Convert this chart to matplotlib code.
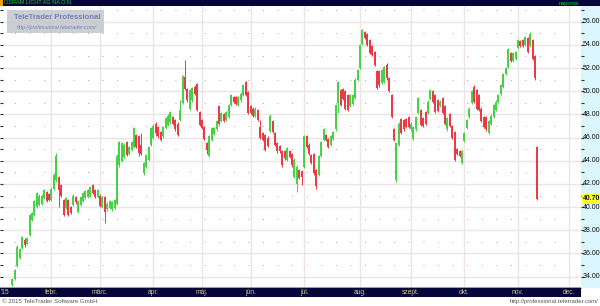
import numpy as np
import matplotlib
matplotlib.use("Agg")
import matplotlib.pyplot as plt
from matplotlib.patches import Rectangle
import matplotlib.transforms as mtransforms

plt.rcParams['font.family'] = ['Liberation Sans', 'DejaVu Sans']

# daily bars (open, high, low, close), one list per month
jan = [(33.3, 33.9, 33.2, 33.8), (33.8, 34.7, 33.7, 34.6), (34.9, 36.7, 34.8, 36.6),
       (35.6, 36.5, 35.5, 36.4), (36.5, 37.5, 36.4, 37.4), (37.2, 37.3, 36.6, 36.7),
       (36.8, 37.4, 36.7, 37.3), (37.6, 39.4, 37.5, 39.3), (38.9, 39.6, 38.8, 39.5),
       (39.3, 40.6, 39.2, 40.5), (40.0, 41.3, 39.9, 41.2), (40.2, 41.1, 40.1, 41.0),
       (40.3, 41.1, 40.2, 41.0), (40.8, 41.6, 40.7, 41.5), (41.3, 41.4, 40.4, 40.5),
       (41.1, 41.2, 40.5, 40.6)]
feb = [(40.6, 41.7, 40.5, 41.6), (41.6, 42.9, 41.5, 42.8), (42.3, 44.7, 42.2, 44.4),
       (42.6, 42.7, 40.0, 41.5), (41.9, 42.0, 40.9, 41.0), (40.6, 40.7, 39.2, 39.3),
       (39.9, 40.9, 39.8, 40.8), (40.6, 40.7, 39.2, 39.3), (40.0, 40.1, 39.4, 39.5),
       (40.2, 41.1, 40.1, 41.0), (40.9, 41.0, 40.3, 40.4), (39.6, 40.6, 39.5, 40.5),
       (40.2, 41.0, 40.1, 40.9), (40.5, 41.3, 40.4, 41.2), (40.8, 41.5, 40.7, 41.4),
       (40.9, 41.6, 40.8, 41.5), (41.0, 41.8, 40.9, 41.7), (41.9, 42.0, 41.1, 41.2),
       (41.5, 41.6, 40.8, 40.9), (40.9, 41.6, 40.8, 41.5)]
mar = [(41.0, 41.1, 40.0, 40.1), (40.0, 41.0, 39.9, 40.9), (40.9, 41.0, 38.6, 39.6),
       (39.8, 40.4, 39.7, 40.3), (39.9, 40.6, 39.8, 40.5), (39.8, 40.5, 39.7, 40.4),
       (39.9, 40.7, 39.8, 40.6), (40.3, 44.6, 40.2, 44.4), (43.6, 45.7, 43.5, 45.6),
       (44.0, 45.6, 43.9, 45.5), (44.3, 45.5, 44.2, 45.4), (45.6, 45.7, 44.4, 44.5),
       (44.6, 45.3, 44.5, 45.2), (44.9, 45.7, 44.8, 45.6), (45.2, 46.9, 45.1, 46.8),
       (46.2, 46.3, 45.1, 45.2), (46.1, 46.2, 44.4, 44.7), (45.4, 46.4, 44.5, 44.6),
       (42.9, 43.9, 42.8, 43.8), (43.5, 44.6, 43.4, 44.5), (44.1, 45.3, 44.0, 45.2),
       (45.4, 46.9, 45.3, 46.8)]
apr = [(46.0, 47.2, 45.9, 47.0), (47.2, 47.3, 46.1, 46.4), (46.9, 47.0, 46.0, 46.1),
       (46.5, 46.6, 45.7, 45.8), (46.1, 47.0, 46.0, 46.9), (46.8, 47.8, 46.7, 47.7),
       (47.1, 48.0, 47.0, 47.9), (47.3, 48.3, 47.2, 48.2), (47.8, 47.9, 47.1, 47.2),
       (47.5, 47.6, 46.6, 46.7), (47.2, 47.3, 46.1, 46.2), (47.5, 49.2, 47.4, 48.4),
       (49.0, 51.4, 48.9, 51.3), (51.2, 52.7, 50.1, 50.2), (50.2, 50.3, 49.1, 49.2),
       (48.5, 50.2, 48.4, 50.1), (49.2, 50.4, 49.1, 50.3), (50.4, 50.5, 49.7, 49.8),
       (50.6, 50.7, 48.3, 48.4), (48.2, 48.3, 47.0, 47.1)]
may = [(47.5, 47.6, 46.7, 46.8), (46.9, 47.0, 45.8, 45.9), (45.5, 45.6, 44.6, 44.9),
       (44.4, 46.2, 44.3, 46.1), (45.8, 46.9, 45.7, 46.8), (46.3, 46.9, 46.2, 46.8),
       (46.7, 47.5, 46.6, 47.4), (48.7, 48.8, 47.1, 47.2), (47.4, 48.2, 47.3, 48.1),
       (48.0, 48.1, 47.3, 47.4), (47.5, 48.3, 47.4, 48.2), (47.8, 48.9, 47.7, 48.8),
       (48.8, 49.8, 48.7, 49.7), (49.5, 49.6, 49.0, 49.1), (49.5, 49.6, 48.8, 48.9),
       (48.8, 49.6, 48.7, 49.5), (49.2, 49.9, 49.1, 49.8), (49.7, 50.6, 49.6, 50.5),
       (50.8, 50.9, 49.6, 49.7), (49.9, 50.0, 48.0, 48.1)]
jun = [(48.7, 48.8, 48.0, 48.1), (48.5, 48.6, 47.8, 47.9), (47.9, 48.6, 47.8, 48.5),
       (48.4, 48.5, 47.4, 47.5), (46.9, 47.5, 45.9, 46.0), (46.4, 46.5, 45.7, 45.8),
       (46.2, 46.3, 44.8, 44.9), (46.0, 46.1, 45.2, 45.3), (46.6, 48.0, 46.5, 47.9),
       (47.4, 47.5, 46.4, 46.5), (46.4, 46.5, 45.3, 45.4), (45.5, 45.6, 44.7, 44.8),
       (45.3, 45.4, 44.7, 44.8), (44.8, 44.9, 43.5, 43.6), (44.8, 44.9, 44.1, 44.2),
       (44.1, 45.2, 44.0, 45.1), (44.8, 44.9, 44.2, 44.3), (44.6, 44.7, 43.5, 43.6),
       (42.6, 44.2, 42.5, 44.1), (42.0, 43.6, 41.3, 43.5), (43.2, 43.3, 42.4, 42.5),
       (43.1, 43.2, 41.9, 42.6)]
jul = [(43.5, 46.2, 43.4, 46.1), (46.1, 46.2, 45.1, 45.2), (45.4, 45.5, 44.5, 44.6),
       (44.5, 44.6, 43.7, 43.8), (44.6, 44.7, 42.8, 42.9), (43.2, 43.3, 41.6, 41.8),
       (42.8, 44.5, 42.7, 44.4), (44.4, 45.7, 44.3, 45.6), (45.8, 46.8, 45.7, 46.7),
       (46.2, 46.3, 45.7, 45.8), (45.9, 46.0, 45.1, 45.2), (45.4, 46.2, 45.3, 46.1),
       (45.9, 46.6, 45.8, 46.5), (46.7, 48.9, 46.6, 48.8), (49.0, 50.9, 48.1, 50.8),
       (50.1, 50.2, 48.7, 48.8), (50.2, 50.3, 49.2, 49.3), (50.0, 50.1, 48.4, 48.5),
       (49.7, 49.8, 48.3, 48.4), (48.7, 49.8, 48.6, 49.7), (48.9, 49.8, 48.8, 49.7),
       (49.4, 51.1, 49.3, 51.0), (51.0, 51.9, 50.9, 51.8)]
aug = [(52.0, 54.1, 51.9, 54.0), (54.1, 55.4, 54.0, 55.3), (55.1, 55.2, 54.5, 54.6),
       (54.9, 55.0, 53.9, 54.0), (54.4, 54.5, 53.2, 53.3), (53.9, 54.0, 53.0, 53.1),
       (53.4, 53.5, 52.2, 52.3), (51.7, 51.8, 50.2, 50.3), (51.7, 51.8, 50.4, 50.5),
       (50.7, 51.9, 50.6, 51.8), (50.8, 52.2, 50.7, 52.1), (52.3, 52.4, 51.0, 51.1),
       (51.1, 51.2, 49.9, 50.0), (49.7, 49.8, 47.7, 47.8), (46.7, 46.8, 45.7, 45.8),
       (42.3, 45.6, 42.2, 45.5), (45.4, 47.3, 45.3, 47.2), (47.6, 47.7, 46.3, 46.4),
       (47.5, 47.6, 46.6, 46.7), (47.6, 47.7, 46.8, 46.9), (47.8, 47.9, 46.8, 46.9)]
sep = [(46.7, 47.3, 46.6, 47.2), (45.9, 47.0, 45.8, 46.9), (46.7, 47.9, 46.6, 47.8),
       (48.1, 49.5, 48.0, 49.4), (48.4, 48.5, 47.0, 47.1), (47.7, 47.8, 46.9, 47.0),
       (48.2, 48.3, 47.1, 47.2), (48.1, 49.2, 48.0, 49.1), (49.3, 50.2, 49.2, 50.1),
       (50.0, 50.1, 49.0, 49.1), (49.7, 49.8, 48.1, 48.2), (49.2, 49.3, 48.2, 48.3),
       (48.7, 49.2, 48.6, 49.1), (49.4, 49.5, 48.0, 48.1), (48.7, 48.8, 47.1, 47.2),
       (46.7, 47.8, 46.6, 47.7), (48.0, 48.1, 46.9, 47.0), (47.0, 47.1, 45.9, 46.0),
       (46.5, 46.6, 44.0, 44.1), (45.0, 45.1, 44.5, 44.6), (44.8, 44.9, 44.3, 44.4),
       (43.8, 44.9, 43.7, 44.8)]
oct_ = [(45.7, 46.5, 45.6, 46.4), (46.8, 47.6, 46.7, 47.5), (47.8, 48.6, 47.7, 48.5),
        (49.0, 50.1, 48.9, 50.0), (50.4, 50.5, 49.0, 49.1), (50.1, 50.2, 48.4, 48.5),
        (49.7, 49.8, 48.3, 48.4), (48.5, 48.6, 47.3, 47.4), (47.8, 47.9, 46.8, 46.9),
        (47.8, 47.9, 46.6, 46.7), (46.4, 47.5, 46.3, 47.4), (47.2, 48.0, 47.1, 47.9),
        (47.8, 48.9, 47.7, 48.8), (48.4, 49.2, 48.3, 49.1), (49.1, 49.8, 49.0, 49.7),
        (49.8, 50.6, 49.7, 50.5), (50.4, 51.6, 50.3, 51.5), (51.5, 52.1, 51.4, 52.0),
        (52.1, 53.7, 52.0, 53.6), (53.3, 53.4, 52.5, 52.6), (52.6, 53.4, 52.5, 53.3),
        (52.8, 53.5, 52.7, 53.4)]
nov = [(53.7, 54.5, 53.6, 54.4), (54.3, 54.4, 53.8, 53.9), (54.4, 54.5, 53.8, 53.9),
       (54.0, 54.8, 53.9, 54.7), (54.6, 54.7, 53.3, 53.4), (53.9, 55.1, 53.8, 54.9),
       (54.4, 54.5, 52.7, 52.8), (53.0, 53.1, 51.0, 51.1), (45.2, 45.3, 40.6, 40.7)]

month_pos = [-3, 16, 36, 58, 78, 98, 120, 143, 164, 186, 208, 229]
month_labels = ["'15", 'febr.', 'márc.', 'ápr.', 'máj.', 'jún.', 'júl.', 'aug.',
                'szept.', 'okt.', 'nov.', 'dec.']
price_ticks = [34, 36, 38, 40, 42, 44, 46, 48, 50, 52, 54, 56]
last_price = 40.70

bars = np.array(jan + feb + mar + apr + may + jun + jul + aug + sep + oct_ + nov)
o, h, l, c = bars[:, 0], bars[:, 1], bars[:, 2], bars[:, 3]
x = np.arange(len(bars))
cols = np.where(c >= o, '#44d244', '#ee3644')

W, H = 600, 306
fig = plt.figure(figsize=(6, 3.06), dpi=100)
fig.patch.set_facecolor('white')

ax = fig.add_axes([0, 1 - 288 / H, 581 / W, 282 / H])
ax.set_xlim(-5.14, 233.95)
ax.set_ylim(33.02, 57.35)
ax.set_facecolor('white')

# grid
for v in range(34, 58):
    if v % 2 == 0:
        ax.axhline(v, color='#ece4e4', lw=1.0, zorder=0)
    else:
        ax.axhline(v, color='#a8a8a8', lw=0.7, ls=(0, (1, 14)), zorder=0)
for p in month_pos[1:]:
    ax.axvline(p, color='#ece4e4', lw=1.0, zorder=0)

# bars
ax.vlines(x, l, h, colors=cols, lw=0.7, zorder=2)
ax.vlines(x, np.minimum(o, c), np.maximum(o, c), colors=cols, lw=1.4, zorder=2)

for s in ['top', 'right', 'left']:
    ax.spines[s].set_visible(False)
ax.spines['bottom'].set_color('#a0a0a0')
ax.spines['bottom'].set_linewidth(1.5)
ax.set_yticks(range(34, 58))
ax.tick_params(axis='y', direction='in', length=2, width=0.8, color='#333333',
               labelleft=False, pad=0)
ax.set_xticks([])

# right price panel
axr = fig.add_axes([581 / W, 1 - 288 / H, 19 / W, 282 / H])
axr.set_facecolor('#daf5fc')
axr.set_ylim(ax.get_ylim())
axr.set_xlim(0, 1)
axr.set_xticks([])
axr.set_yticks(range(34, 58))
axr.tick_params(axis='y', direction='in', length=2, width=0.8, color='#333333',
                labelleft=False)
for s in axr.spines.values():
    s.set_visible(False)
for v in price_ticks:
    axr.text(0.1, v, '%.2f' % v, fontsize=5, va='center', ha='left', color='#111111')
axr.text(0.1, last_price, '%.2f' % last_price, fontsize=5, va='center', ha='left',
         color='#111111', fontweight='bold',
         bbox=dict(boxstyle='square,pad=0.15', fc='#ffff30', ec='none'))

# top bar
fig.patches.append(Rectangle((0, 1 - 6 / H), 1, 6 / H, transform=fig.transFigure,
                             fc='#05053a', ec='none', zorder=0))
fig.patches.append(Rectangle((0, 1 - 6 / H), 2.5 / W, 6 / H, transform=fig.transFigure,
                             fc='#ff9900', ec='none', zorder=1))
fig.text(4 / W, 1 - 3 / H, 'OSRAM LICHT AG NA O.N.', fontsize=4, color='#22cc22',
         va='center', ha='left')
fig.text(579 / W, 1 - 3 / H, 'naponta', fontsize=4, color='#22cc22',
         va='center', ha='right')

# bottom date bar
fig.patches.append(Rectangle((0, 1 - 297 / H), 581 / W, 9 / H, transform=fig.transFigure,
                             fc='#05053a', ec='none', zorder=0))
tr = mtransforms.blended_transform_factory(ax.transData, fig.transFigure)
for p, lab in zip(month_pos, month_labels):
    fig.text(p, 1 - 292.5 / H, lab, transform=tr, fontsize=4.8, color='#d8c88c',
             va='center', ha='center')

# watermark
fig.patches.append(Rectangle((7 / W, 1 - 33 / H), 97 / W, 23 / H, transform=fig.transFigure,
                             fc='#c6c9d1', ec='none', alpha=0.9, zorder=3))
fig.text(14 / W, 1 - 17.5 / H, 'TeleTrader Professional', fontsize=5.6, color='#7482b2',
         fontweight='bold', va='center', ha='left', zorder=4)
fig.text(97 / W, 1 - 27 / H, 'http://professional.teletrader.com/', fontsize=3.9,
         color='#7482b2', style='italic', va='center', ha='right', zorder=4)

# footer
fig.text(2 / W, 1 - 301.5 / H, '© 2015 TeleTrader Software GmbH', fontsize=4.4,
         color='#555555', va='center', ha='left')
fig.text(598 / W, 1 - 301.5 / H, 'http://professional.teletrader.com/', fontsize=4.3,
         color='#555555', va='center', ha='right')

fig.savefig('out.png', dpi=100)
